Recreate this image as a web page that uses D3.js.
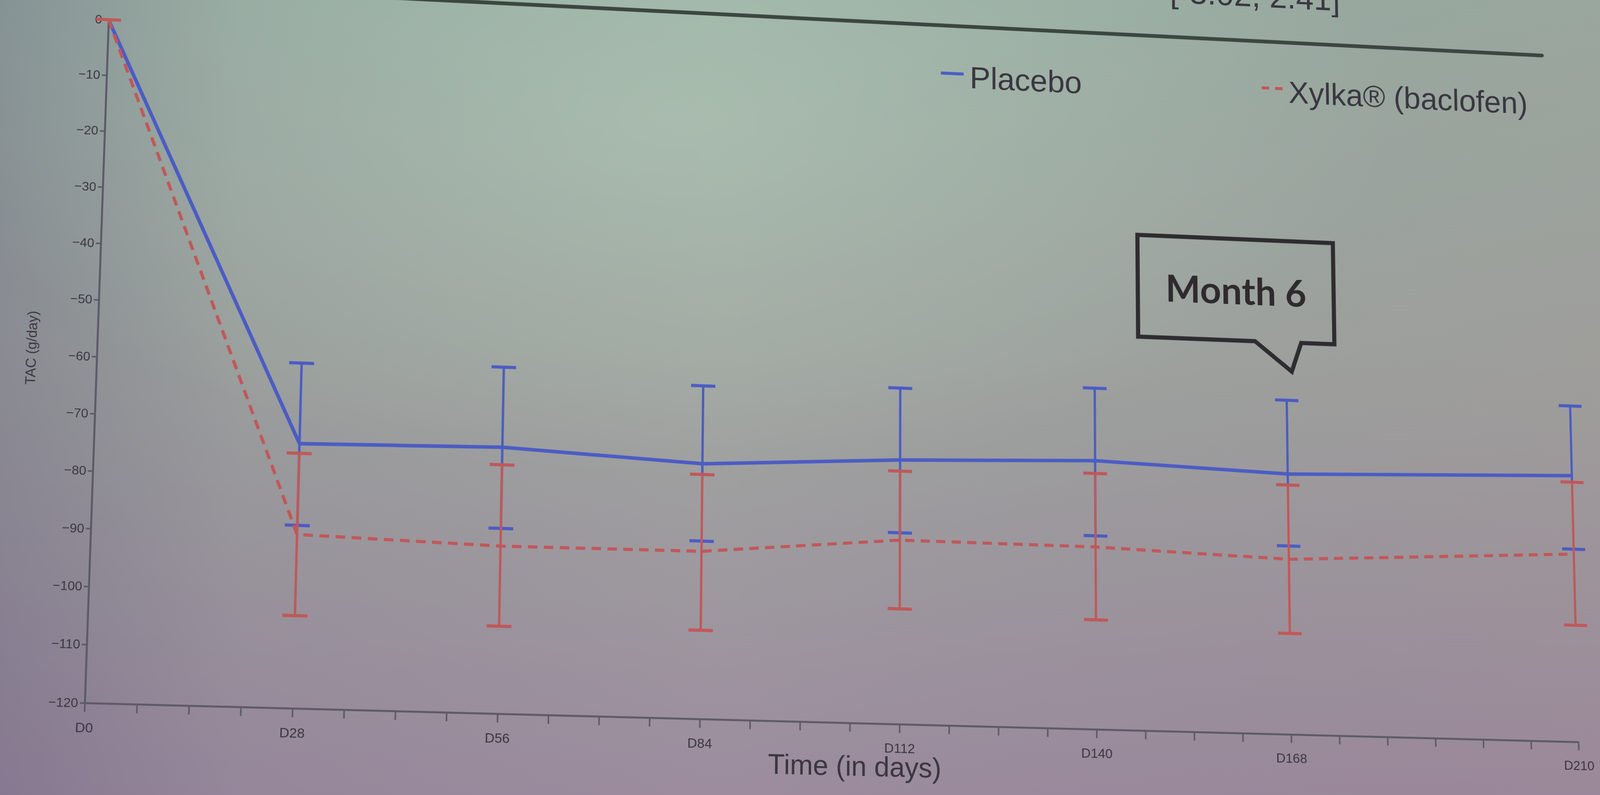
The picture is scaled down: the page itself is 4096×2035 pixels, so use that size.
<!DOCTYPE html>
<html>
<head>
<meta charset="utf-8">
<script src="https://cdn.jsdelivr.net/npm/d3@7"></script>
<style>
  html, body { margin: 0; padding: 0; width: 4096px; height: 2035px; overflow: hidden; background: #a3aca4; }
  #bg { position: absolute; left: 0; top: 0; }
  #wrap { position: absolute; left: 0; top: 0; transform-origin: 0 0; }
</style>
</head>
<body>
<svg id="bg" width="4096" height="2035"></svg>
<div id="wrap"><svg id="chart"></svg></div>
<script>
// ---------------------------- DATA ----------------------------
const days = [0, 28, 56, 84, 112, 140, 168, 210];
const dayLabels = ["D0", "D28", "D56", "D84", "D112", "D140", "D168", "D210"];
const yTicks = [0, -10, -20, -30, -40, -50, -60, -70, -80, -90, -100, -110, -120];

const placeboMean = [0, -74.0, -73.4, -75.1, -73.2, -72.1, -73.3, -71.8];
const placeboUp   = [0, -59.8, -59.2, -61.2, -60.3, -59.0, -59.9, -59.0];
const placeboLow  = [0, -88.3, -87.7, -88.8, -86.2, -85.6, -86.3, -85.2];

const xylkaMean = [0, -89.9, -90.8, -90.6, -87.5, -87.6, -88.7, -86.1];
const xylkaUp   = [0, -75.7, -76.5, -77.0, -75.2, -74.4, -75.3, -73.0];
const xylkaLow  = [0, -104.0, -104.8, -104.5, -99.7, -100.6, -102.0, -99.0];

const seriesNames = ["Placebo", "Xylka\u00AE (baclofen)"];
const xTitle = "Time (in days)";
const yTitle = "TAC (g/day)";
const calloutText = "Month 6";
const topText = "[-3.02, 2.41]";

// --------------------------- LAYOUT ---------------------------
// flat drawing size, and where the plot sits inside it
const SW = 4500, SH = 2600;
const ML = 400, MT = 500, PW = 3800, PH = 1720;
// corners of the plot as seen in the photo (tl, tr, br, bl)
const quad = [[278, 50.4], [3998, 228.8], [4039.5, 1898.6], [216.8, 1799.3]];

const blue = "#4b5cc4";
const red = "#c0585a";
const ink = "#3a3640";
const axisCol = "#5e5b68";

//------------------------- PERSPECTIVE -------------------------
function rectToQuad(w, h, q) {
  const [p0, p1, p2, p3] = q;
  const sx = p0[0] - p1[0] + p2[0] - p3[0];
  const sy = p0[1] - p1[1] + p2[1] - p3[1];
  const dx1 = p1[0] - p2[0], dx2 = p3[0] - p2[0];
  const dy1 = p1[1] - p2[1], dy2 = p3[1] - p2[1];
  const den = dx1 * dy2 - dx2 * dy1;
  const g = (sx * dy2 - dx2 * sy) / den;
  const k = (dx1 * sy - sx * dy1) / den;
  const a = p1[0] - p0[0] + g * p1[0], b = p3[0] - p0[0] + k * p3[0], c = p0[0];
  const d = p1[1] - p0[1] + g * p1[1], e = p3[1] - p0[1] + k * p3[1], f = p0[1];
  return [[a / w, b / h, c], [d / w, e / h, f], [g / w, k / h, 1]];
}

const H = rectToQuad(PW, PH, quad);
const M = H.map(r => [r[0], r[1], r[2] - r[0] * ML - r[1] * MT]);

function invert3(m) {
  const [a, b, c] = m[0], [d, e, f] = m[1], [g, h, i] = m[2];
  const A = e * i - f * h, B = -(d * i - f * g), C = d * h - e * g;
  const det = a * A + b * B + c * C;
  return [
    [A / det, -(b * i - c * h) / det, (b * f - c * e) / det],
    [B / det, (a * i - c * g) / det, -(a * f - c * d) / det],
    [C / det, -(a * h - b * g) / det, (a * e - b * d) / det]
  ];
}
const Minv = invert3(M);
// photo position -> flat drawing position
function unproject(X, Y) {
  const w = Minv[2][0] * X + Minv[2][1] * Y + Minv[2][2];
  return [(Minv[0][0] * X + Minv[0][1] * Y + Minv[0][2]) / w,
          (Minv[1][0] * X + Minv[1][1] * Y + Minv[1][2]) / w];
}

d3.select("#wrap")
  .style("width", SW + "px")
  .style("height", SH + "px")
  .style("transform", `matrix3d(${M[0][0]},${M[1][0]},0,${M[2][0]},${M[0][1]},${M[1][1]},0,${M[2][1]},0,0,1,0,${M[0][2]},${M[1][2]},0,${M[2][2]})`);

//-------------------------- BACKGROUND --------------------------
const bg = d3.select("#bg");
const defs = bg.append("defs");

const gv = defs.append("linearGradient").attr("id", "gv").attr("x1", 0).attr("y1", 0).attr("x2", 0).attr("y2", 1);
gv.append("stop").attr("offset", "0%").attr("stop-color", "rgb(154,176,163)");
gv.append("stop").attr("offset", "45%").attr("stop-color", "rgb(160,166,160)");
gv.append("stop").attr("offset", "100%").attr("stop-color", "rgb(156,140,158)");

const gh = defs.append("linearGradient").attr("id", "gh").attr("x1", 0).attr("y1", 0).attr("x2", 1).attr("y2", 0);
gh.append("stop").attr("offset", "0%").attr("stop-color", "rgb(80,70,110)").attr("stop-opacity", 0.28);
gh.append("stop").attr("offset", "15%").attr("stop-color", "rgb(80,70,110)").attr("stop-opacity", 0.08);
gh.append("stop").attr("offset", "45%").attr("stop-color", "rgb(80,70,110)").attr("stop-opacity", 0);
gh.append("stop").attr("offset", "100%").attr("stop-color", "rgb(150,110,125)").attr("stop-opacity", 0.14);

const gr = defs.append("radialGradient").attr("id", "gr").attr("cx", 0.42).attr("cy", 0.15).attr("r", 0.45);
gr.append("stop").attr("offset", "0%").attr("stop-color", "rgb(195,220,200)").attr("stop-opacity", 0.32);
gr.append("stop").attr("offset", "100%").attr("stop-color", "rgb(195,220,200)").attr("stop-opacity", 0);

bg.append("rect").attr("width", 4096).attr("height", 2035).attr("fill", "url(#gv)");
bg.append("rect").attr("width", 4096).attr("height", 2035).attr("fill", "url(#gh)");
bg.append("rect").attr("width", 4096).attr("height", 2035).attr("fill", "url(#gr)");

//---------------------------- CHART ----------------------------
const svg = d3.select("#chart").attr("width", SW).attr("height", SH)
  .style("font-family", "'Liberation Sans', Arial, sans-serif");

const g = svg.append("g").attr("transform", `translate(${ML},${MT})`);

const x = d3.scaleLinear().domain([0, 210]).range([0, PW]);
const y = d3.scaleLinear().domain([-120, 0]).range([PH, 0]);

// x axis, minor ticks every 7 days, labels at the visits
const xAxis = d3.axisBottom(x)
  .tickValues(d3.range(0, 211, 7))
  .tickSize(22).tickSizeOuter(0).tickPadding(26)
  .tickFormat(d => { const i = days.indexOf(d); return i < 0 ? "" : dayLabels[i]; });

const gx = g.append("g").attr("transform", `translate(0,${PH})`).call(xAxis);
gx.select(".domain").attr("stroke", axisCol).attr("stroke-width", 5);
gx.selectAll(".tick line").attr("stroke", axisCol).attr("stroke-width", 4);
gx.selectAll(".tick text").attr("fill", ink).style("font-size", "34px");

const yAxis = d3.axisLeft(y).tickValues(yTicks).tickSize(12).tickSizeOuter(0).tickPadding(4);
const gy = g.append("g").call(yAxis);
gy.select(".domain").attr("stroke", axisCol).attr("stroke-width", 5);
gy.selectAll(".tick line").attr("stroke", axisCol).attr("stroke-width", 4);
gy.selectAll(".tick text").attr("fill", ink).style("font-size", "32px");

// axis titles
const xt = unproject(2188, 1986);
svg.append("text").attr("x", xt[0]).attr("y", xt[1]).attr("text-anchor", "middle")
  .attr("fill", ink).style("font-size", "70px").text(xTitle);

const yt = unproject(80, 890);
svg.append("text").attr("transform", `translate(${yt[0]},${yt[1]}) rotate(-90)`)
  .attr("text-anchor", "middle").attr("dominant-baseline", "central")
  .attr("fill", ink).style("font-size", "35px").text(yTitle);

//------------------------- ERROR BARS --------------------------
const capW = 62;
function errorBars(up, low, color) {
  const bars = g.append("g").attr("stroke", color).attr("stroke-width", 6).attr("fill", "none");
  days.forEach((d, i) => {
    bars.append("line").attr("x1", x(d)).attr("x2", x(d)).attr("y1", y(up[i])).attr("y2", y(low[i]));
    [up[i], low[i]].forEach(v => {
      bars.append("line").attr("x1", x(d) - capW / 2).attr("x2", x(d) + capW / 2)
        .attr("y1", y(v)).attr("y2", y(v)).attr("stroke-width", 8);
    });
  });
}

const line = d3.line().x((d, i) => x(days[i])).y(d => y(d));

errorBars(placeboUp, placeboLow, blue);
g.append("path").attr("d", line(placeboMean)).attr("fill", "none")
  .attr("stroke", blue).attr("stroke-width", 9).attr("stroke-linejoin", "round");

errorBars(xylkaUp, xylkaLow, red);
g.append("path").attr("d", line(xylkaMean)).attr("fill", "none")
  .attr("stroke", red).attr("stroke-width", 8).attr("stroke-dasharray", "24 16");

//---------------------------- LEGEND ---------------------------
const legFont = 82;
const lp = unproject(2482, 226);
svg.append("line").attr("x1", lp[0] - 76).attr("x2", lp[0] - 16)
  .attr("y1", lp[1] - 0.45 * legFont).attr("y2", lp[1] - 0.45 * legFont)
  .attr("stroke", blue).attr("stroke-width", 8);
svg.append("text").attr("x", lp[0]).attr("y", lp[1]).attr("fill", ink)
  .style("font-size", legFont + "px").text(seriesNames[0]);

const lx = unproject(3298, 263);
svg.append("line").attr("x1", lx[0] - 72).attr("x2", lx[0] - 14)
  .attr("y1", lx[1] - 0.45 * legFont).attr("y2", lx[1] - 0.45 * legFont)
  .attr("stroke", red).attr("stroke-width", 8).attr("stroke-dasharray", "20 16");
svg.append("text").attr("x", lx[0]).attr("y", lx[1]).attr("fill", ink)
  .style("font-size", legFont + "px").text(seriesNames[1]);

//------------------------ TOP OF SLIDE -------------------------
const sA = unproject(700, -21), sB = unproject(3946, 142);
svg.append("line").attr("x1", sA[0]).attr("y1", sA[1]).attr("x2", sB[0]).attr("y2", sB[1])
  .attr("stroke", "#3c4640").attr("stroke-width", 10).attr("stroke-linecap", "round");

// only the lower edge of this line is inside the photo
const tt = unproject(2994, 6);
svg.append("text").attr("x", tt[0]).attr("y", tt[1]).attr("fill", ink)
  .style("font-size", "86px").text(topText);

//--------------------------- CALLOUT ---------------------------
const cTL = unproject(2911, 601), cBR = unproject(3415, 881);
const tailL = unproject(3212, 870), tailR = unproject(3330, 874), tip = unproject(3306, 951);
const cPath = d3.path();
cPath.moveTo(cTL[0], cTL[1]);
cPath.lineTo(cBR[0], cTL[1]);
cPath.lineTo(cBR[0], cBR[1]);
cPath.lineTo(tailR[0], cBR[1]);
cPath.lineTo(tip[0], tip[1]);
cPath.lineTo(tailL[0], cBR[1]);
cPath.lineTo(cTL[0], cBR[1]);
cPath.closePath();
svg.append("path").attr("d", cPath.toString()).attr("fill", "none")
  .attr("stroke", "#2e2c30").attr("stroke-width", 11).attr("stroke-linejoin", "miter");

const ct = unproject(3164, 779);
svg.append("text").attr("x", ct[0]).attr("y", ct[1]).attr("text-anchor", "middle")
  .attr("fill", "#2e2a2e").style("font-family", "Lato, 'Open Sans', sans-serif")
  .style("font-weight", 700).style("font-size", "98px").text(calloutText);
</script>
</body>
</html>
